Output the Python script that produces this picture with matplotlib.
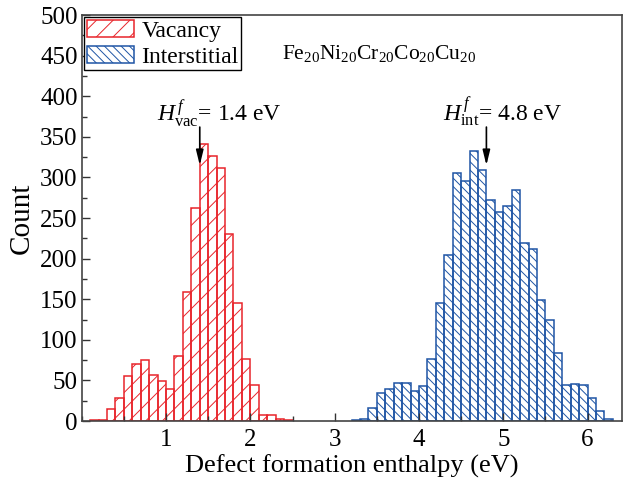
import matplotlib
matplotlib.use("Agg")
import matplotlib.pyplot as plt
import numpy as np
from matplotlib.ticker import MultipleLocator

plt.rcParams["font.family"] = ["Liberation Serif", "DejaVu Serif"]
plt.rcParams["mathtext.fontset"] = "custom"
plt.rcParams["mathtext.rm"] = "Liberation Serif"
plt.rcParams["mathtext.it"] = "Liberation Serif:italic"
plt.rcParams["hatch.linewidth"] = 0.7

# histogram bins (left edges, eV) and counts
bin_width = 0.1
vac_left = [0.1, 0.2, 0.3, 0.4, 0.5, 0.6, 0.7, 0.8, 0.9, 1.0, 1.1, 1.2,
            1.3, 1.4, 1.5, 1.6, 1.7, 1.8, 1.9, 2.0, 2.1, 2.2, 2.3, 2.4]
vac_counts = [1, 1, 15, 29, 55, 70, 75, 57, 49, 40, 80, 159,
              262, 341, 327, 312, 230, 145, 77, 45, 8, 7, 2, 1]

int_left = [3.2, 3.3, 3.4, 3.5, 3.6, 3.7, 3.8, 3.9, 4.0, 4.1, 4.2, 4.3,
            4.4, 4.5, 4.6, 4.7, 4.8, 4.9, 5.0, 5.1, 5.2, 5.3, 5.4, 5.5,
            5.6, 5.7, 5.8, 5.9, 6.0, 6.1, 6.2]
int_counts = [1, 3, 16, 34, 39, 47, 47, 37, 43, 77, 145, 204,
              305, 296, 332, 309, 272, 258, 265, 284, 219, 212, 149, 125,
              84, 44, 46, 44, 29, 13, 2]

vac_peak = 1.4
int_peak = 4.8

red = "#e8252b"
blue = "#1f55a5"

fig = plt.figure(figsize=(6.24, 4.84), dpi=100)
ax = fig.add_axes([0.131, 0.130, 0.866, 0.839])

ax.bar(vac_left, vac_counts, width=bin_width, align="edge", facecolor="none",
       edgecolor=red, hatch="//", linewidth=1.1, label="Vacancy")
ax.bar(int_left, int_counts, width=bin_width, align="edge", facecolor="none",
       edgecolor=blue, hatch="\\\\\\\\", linewidth=1.1, label="Interstitial")

arrow = dict(arrowstyle="-|>,head_length=0.9,head_width=0.22", color="k",
             lw=1.2, mutation_scale=10, shrinkA=0, shrinkB=0)
ax.annotate("", xy=(vac_peak, 315), xytext=(vac_peak, 362), arrowprops=arrow)
ax.annotate("", xy=(int_peak, 315), xytext=(int_peak, 362), arrowprops=arrow)

ax.text(0.89, 370, r"$H^{\,f}_{\rm vac}$= %.1f eV" % vac_peak, fontsize=17)
ax.text(4.29, 370, r"$H^{\,f}_{\rm int}$= %.1f eV" % int_peak, fontsize=17)
ax.text(2.37, 446, r"Fe$_{20}$Ni$_{20}$Cr$_{20}$Co$_{20}$Cu$_{20}$", fontsize=15.5)

ax.set_xlim(0, 6.41)
ax.set_ylim(0, 500)
ax.xaxis.set_major_locator(MultipleLocator(1))
ax.xaxis.set_minor_locator(MultipleLocator(0.5))
ax.yaxis.set_major_locator(MultipleLocator(50))
ax.yaxis.set_minor_locator(MultipleLocator(25))
ax.set_xticks([1, 2, 3, 4, 5, 6])
ax.tick_params(which="both", direction="in", top=False, right=False,
               labelsize=18, color="#333333")
ax.tick_params(which="major", length=6, width=1)
ax.tick_params(which="minor", length=3.5, width=1)
ax.tick_params(axis="x", pad=6)
ax.tick_params(axis="y", pad=3)
for s in ax.spines.values():
    s.set_color("#444444")
    s.set_linewidth(1.2)

ax.set_xlabel("Defect formation enthalpy (eV)", fontsize=19, labelpad=2)
ax.set_ylabel("Count", fontsize=21, labelpad=4)

leg = ax.legend(loc="upper left", fontsize=17, frameon=True, fancybox=False,
                edgecolor="black", framealpha=1, borderpad=0.12,
                borderaxespad=0.1, handlelength=2.0, handleheight=0.7,
                handletextpad=0.3, labelspacing=0.18)
leg.get_frame().set_linewidth(1.0)

fig.savefig("out.png", dpi=100)
